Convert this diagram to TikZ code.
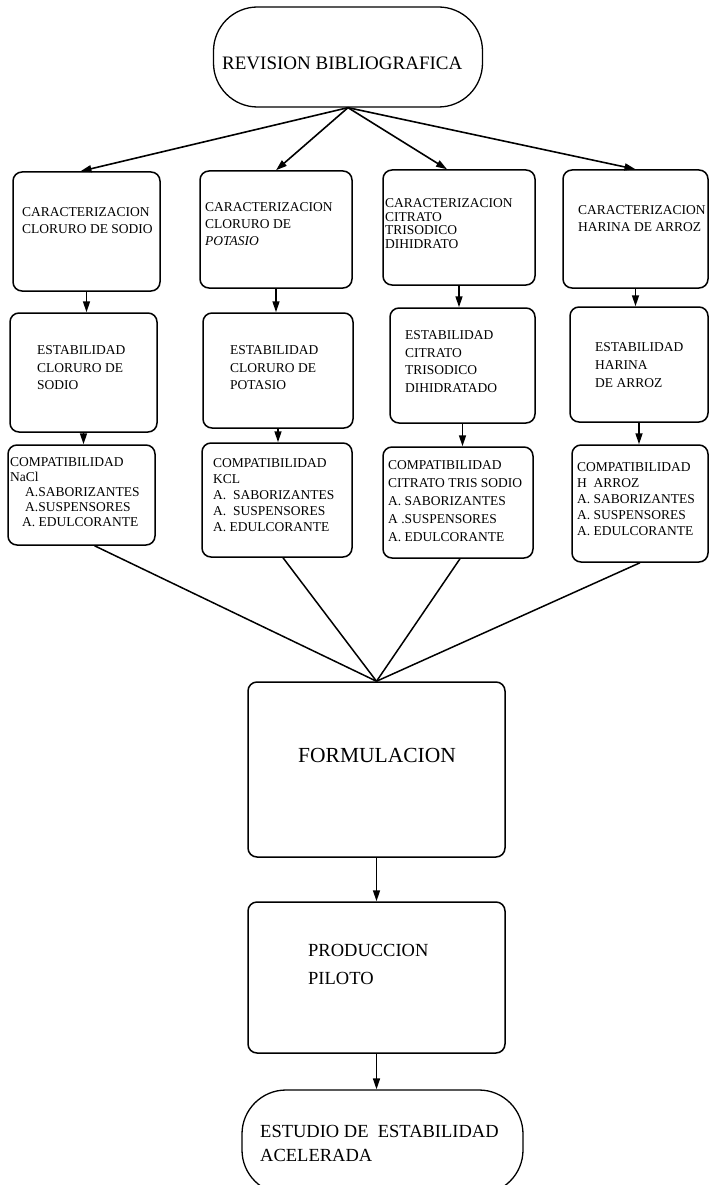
\documentclass[tikz,border=0pt]{standalone}
\usepackage{fontspec}
\setmainfont{Liberation Serif}
\usetikzlibrary{positioning,arrows.meta,calc}

\tikzset{
  caja/.style={draw, rounded corners=9pt, line width=1.5pt, inner sep=0pt},
  term/.style={draw, rounded corners=44pt, line width=1.3pt, inner sep=0pt},
  etiq/.style={anchor=north west, inner sep=0pt, align=left, font=\fontsize{13.5}{16.5}\selectfont},
  flecha/.style={line width=1.6pt, -{Triangle[length=11pt,width=7pt]}},
  linea/.style={line width=1.5pt}
}

\begin{document}
\begin{tikzpicture}[x=1pt,y=-1pt]
\useasboundingbox (0,0) rectangle (709,1185);
% terminals
\node[term, minimum width=269pt, minimum height=100pt] (rev) at (348,57) {};
\node[term, minimum width=281pt, minimum height=104pt] (est) at (382.5,1142) {};
% the four columns of boxes
\foreach \n/\x/\y/\w/\h in {
  c1/86.5/231.5/147/119, c2/276/229.5/152/117, c3/459/227.5/152/115, c4/635.5/229/145/118,
  e1/83.5/372.5/147/119, e2/278/370.5/150/115, e3/462.5/365.5/145/115, e4/639/364.5/138/115,
  p1/81.5/495/147/100, p2/277/500/150/114, p3/458/502.5/150/111, p4/640/503.5/136/117}
{
  \node[caja, minimum width=\w pt, minimum height=\h pt] (\n) at (\x,\y) {};
}
\node[caja, minimum width=257pt, minimum height=175pt] (form) at (376.5,769.5) {};
\node[caja, minimum width=257pt, minimum height=151pt] (prod) at (376.5,977.5) {};
% labels
\node[etiq, font=\fontsize{19}{22}\selectfont] (revt) at (222,57) {REVISION BIBLIOGRAFICA};
\node[etiq] (c1t) at (22,207.5) {CARACTERIZACION\\CLORURO DE SODIO};
\node[etiq, font=\fontsize{13.5}{17}\selectfont] (c2t) at (205,202.5) {CARACTERIZACION\\CLORURO DE\\\textit{POTASIO}};
\node[etiq, font=\fontsize{13.5}{13.5}\selectfont] (c3t) at (385,198.5) {CARACTERIZACION\\CITRATO\\TRISODICO\\DIHIDRATO};
\node[etiq, font=\fontsize{13.5}{17}\selectfont] (c4t) at (578,205.5) {CARACTERIZACION\\HARINA DE ARROZ};
\node[etiq, font=\fontsize{13.5}{17.5}\selectfont] (e1t) at (37,345.5) {ESTABILIDAD\\CLORURO DE\\SODIO};
\node[etiq, font=\fontsize{13.5}{17.5}\selectfont] (e2t) at (230,345.5) {ESTABILIDAD\\CLORURO DE\\POTASIO};
\node[etiq, font=\fontsize{13.5}{17.5}\selectfont] (e3t) at (405,330.5) {ESTABILIDAD\\CITRATO\\TRISODICO\\DIHIDRATADO};
\node[etiq, font=\fontsize{13.5}{18}\selectfont] (e4t) at (595,342.5) {ESTABILIDAD\\HARINA\\DE ARROZ};
\node[etiq, font=\fontsize{13.5}{15}\selectfont] (p1t) at (10,457.5) {COMPATIBILIDAD\\NaCl\\\hspace{15pt}A.SABORIZANTES\\\hspace{15pt}A.SUSPENSORES\\\hspace{12pt}A. EDULCORANTE};
\node[etiq, font=\fontsize{13.5}{16}\selectfont] (p2t) at (213,458.5) {COMPATIBILIDAD\\KCL\\A.\ \ SABORIZANTES\\A.\ \ SUSPENSORES\\A. EDULCORANTE};
\node[etiq, font=\fontsize{13.5}{18}\selectfont] (p3t) at (388,460.5) {COMPATIBILIDAD\\CITRATO TRIS SODIO\\A. SABORIZANTES\\A .SUSPENSORES\\A. EDULCORANTE};
\node[etiq, font=\fontsize{13.5}{16}\selectfont] (p4t) at (577,462.5) {COMPATIBILIDAD\\H\ \ ARROZ\\A. SABORIZANTES\\A. SUSPENSORES\\A. EDULCORANTE};
\node[etiq, font=\fontsize{21.5}{24}\selectfont] (formt) at (298,748) {FORMULACION};
\node[etiq, font=\fontsize{18.5}{28}\selectfont] (prodt) at (308,944) {PRODUCCION\\PILOTO};
\node[etiq, font=\fontsize{18.5}{24}\selectfont] (estt) at (260,1125) {ESTUDIO DE\ \ ESTABILIDAD\\ACELERADA};
% arrows
\draw[flecha] (rev.south) -- ([xshift=-6pt]c1.north);
\draw[flecha] (rev.south) -- (c2.north);
\draw[flecha] (rev.south) -- ([xshift=-12pt]c3.north);
\draw[flecha] (rev.south) -- (c4.north);
\foreach \i in {1,...,4}
{
  \draw[flecha] (c\i.south) -- (c\i.south |- e\i.north);
  \draw[flecha] (e\i.south) -- (e\i.south |- p\i.north);
}
\foreach \i/\d in {1/13,2/6,3/2,4/0}
  \draw[linea] ([xshift=\d pt]p\i.south) -- (form.north);
\draw[flecha] (form.south) -- (prod.north);
\draw[flecha] (prod.south) -- (prod.south |- est.north);
\end{tikzpicture}
\end{document}
